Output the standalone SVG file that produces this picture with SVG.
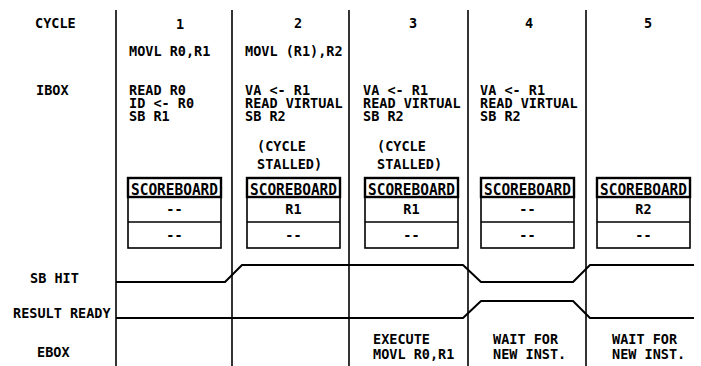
<svg xmlns="http://www.w3.org/2000/svg" width="701" height="366" viewBox="0 0 701 366">
<style>
text{font-family:"DejaVu Sans Mono","Liberation Mono",monospace;font-weight:bold;font-size:13.5px;fill:#000}
.c{text-anchor:middle}
.h{font-size:15.5px}
.grid{stroke:#000;stroke-width:1.6;fill:none}
.sig{stroke:#000;stroke-width:2;fill:none;stroke-linejoin:round}
.sb{stroke:#000;stroke-width:1.6;fill:#fff}
.hdr{stroke:#000;stroke-width:2.4;fill:none}
</style>
<defs>
<g id="sbox">
<rect class="sb" x="0" y="0" width="93" height="70"/>
<rect class="hdr" x="0" y="0" width="93" height="19"/>
<line class="grid" x1="0" y1="44" x2="93" y2="44"/>
<text class="h" x="3" y="16.5" textLength="87" lengthAdjust="spacingAndGlyphs">SCOREBOARD</text>
</g>
</defs>
<rect width="701" height="366" fill="#fff"/>
<g id="grid">
<line class="grid" x1="116" y1="10" x2="116" y2="366"/>
<line class="grid" x1="232" y1="10" x2="232" y2="366"/>
<line class="grid" x1="349" y1="10" x2="349" y2="366"/>
<line class="grid" x1="468" y1="10" x2="468" y2="366"/>
<line class="grid" x1="586" y1="10" x2="586" y2="366"/>
</g>
<g id="labels">
<text x="35" y="28">CYCLE</text>
<text x="36" y="95">IBOX</text>
<text x="30" y="283">SB HIT</text>
<text x="13" y="318">RESULT READY</text>
<text x="37" y="357">EBOX</text>
</g>
<g id="col1">
<text class="c" x="180" y="29">1</text>
<text x="129" y="56">MOVL R0,R1</text>
<text x="129" y="95">READ R0</text>
<text x="129" y="108">ID &lt;- R0</text>
<text x="129" y="121">SB R1</text>
<use href="#sbox" x="128" y="178"/>
<text class="c" x="174.5" y="214">--</text>
<text class="c" x="174.5" y="240">--</text>
</g>
<g id="col2">
<text class="c" x="298" y="28">2</text>
<text x="245" y="56">MOVL (R1),R2</text>
<text x="245" y="95">VA &lt;- R1</text>
<text x="245" y="108">READ VIRTUAL</text>
<text x="245" y="121">SB R2</text>
<text x="257" y="151">(CYCLE</text>
<text x="257" y="169">STALLED)</text>
<use href="#sbox" x="247" y="178"/>
<text class="c" x="293.5" y="214">R1</text>
<text class="c" x="293.5" y="240">--</text>
</g>
<g id="col3">
<text class="c" x="413" y="28">3</text>
<text x="363" y="95">VA &lt;- R1</text>
<text x="363" y="108">READ VIRTUAL</text>
<text x="363" y="121">SB R2</text>
<text x="377" y="151">(CYCLE</text>
<text x="377" y="169">STALLED)</text>
<use href="#sbox" x="365" y="178"/>
<text class="c" x="411.5" y="214">R1</text>
<text class="c" x="411.5" y="240">--</text>
<text x="373" y="344">EXECUTE</text>
<text x="373" y="359">MOVL R0,R1</text>
</g>
<g id="col4">
<text class="c" x="529" y="28">4</text>
<text x="480" y="95">VA &lt;- R1</text>
<text x="480" y="108">READ VIRTUAL</text>
<text x="480" y="121">SB R2</text>
<use href="#sbox" x="481" y="178"/>
<text class="c" x="527.5" y="214">--</text>
<text class="c" x="527.5" y="240">--</text>
<text x="493" y="344">WAIT FOR</text>
<text x="493" y="359">NEW INST.</text>
</g>
<g id="col5">
<text class="c" x="648" y="28">5</text>
<use href="#sbox" x="597" y="178"/>
<text class="c" x="643.5" y="214">R2</text>
<text class="c" x="643.5" y="240">--</text>
<text x="612" y="344">WAIT FOR</text>
<text x="612" y="359">NEW INST.</text>
</g>
<g id="connectors">
<path class="sig" d="M116,282 H225 L242,265 H463 L481,282 H573 L590,265 H694"/>
<path class="sig" d="M116,318 H463 L481,301 H573 L590,318 H694"/>
</g>
</svg>
